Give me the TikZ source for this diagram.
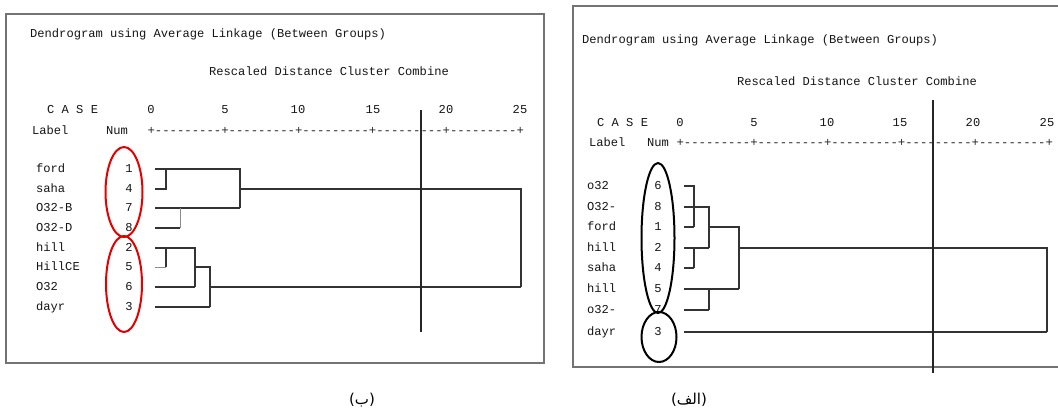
\documentclass[tikz,border=0pt]{standalone}
\usepackage{fontspec}
\setmonofont{Liberation Mono}
\newfontfamily\arabicfont[Script=Arabic]{DejaVu Sans}
\newfontfamily\parenfont{DejaVu Sans}
\TeXXeTstate=1
\tikzset{
  txt/.style={font=\fontsize{12.1}{14}\selectfont\ttfamily, inner sep=0pt, text=black!92, text height=8pt, text depth=2pt},
  lbl/.style={txt, anchor=west},
  num/.style={txt, anchor=center},
  axis/.style={font=\fontsize{12.3}{14}\selectfont\ttfamily, inner sep=0pt, text=black!85, anchor=west, text height=8pt, text depth=2pt},
  dline/.style={draw=black!80, line width=1.2pt},
  lline/.style={draw=black!45, line width=1pt},
  frame/.style={draw=black!55, line width=1.5pt},
  cutline/.style={draw=black!85, line width=1.3pt},
  redring/.style={draw=red!90!black, line width=2pt},
  blackring/.style={draw=black, line width=2pt},
  captext/.style={font=\fontsize{15}{18}\selectfont\parenfont, inner sep=0pt, text=black}
}
\begin{document}
\begin{tikzpicture}[x=1pt,y=-1pt]
\useasboundingbox (0,0) rectangle (1058,413);

% ---------------- left panel (b) ----------------
\draw[frame] (6,14) rectangle (544,363);
\node[lbl] (Ltitle) at (30,34) {Dendrogram using Average Linkage (Between Groups)};
\node[lbl] (Lresc) at (209,72) {Rescaled Distance Cluster Combine};
\node[lbl] (Lcase) at (47,110) {C A S E};
\foreach \v/\x in {0/151,5/225,10/298,15/373,20/446,25/520}
  \node[num] (Ln\v) at (\x,110) {\v};
\node[lbl] (Llabel) at (32,131) {Label};
\node[lbl] (Lnum) at (106,131) {Num};
\node[axis] (Laxis) at (147.3,131) {+---------+---------+---------+---------+---------+};

\foreach \i/\lab/\n/\y in {1/ford/1/169,2/saha/4/189,3/O32-B/7/208,4/O32-D/8/228,5/hill/2/248,6/HillCE/5/267,7/O32/6/287,8/dayr/3/307}{
  \node[lbl] (Lr\i) at (36,\y) {\lab};
  \node[num] (Lk\i) at (129,\y) {\n};
  \coordinate (Ls\i) at (155,\y);
}
% clusters
\draw[dline] (Ls1) -- (240,169) -- (240,208);
\draw[dline] (Ls2) -- (166,189) -- (166,169);
\draw[dline] (240,189) -- (521,189) -- (521,287);
\draw[dline] (Ls3) -- (240,208);
\draw[dline] (Ls4) -- (180,228);
\draw[lline] (180,228) -- (180,208);
\draw[dline] (Ls5) -- (195,248) -- (195,287);
\draw[dline] (166,248) -- (166,267);
\draw[lline] (Ls6) -- (166,267);
\draw[dline] (195,267) -- (210,267) -- (210,307);
\draw[dline] (Ls7) -- (195,287);
\draw[dline] (Ls8) -- (210,307);
\draw[dline] (210,287) -- (521,287);
\draw[cutline] (421,110) -- (421,332);
\draw[redring] (124,192) ellipse [x radius=18.5, y radius=45];
\draw[redring] (124,284) ellipse [x radius=18, y radius=48];

% ---------------- right panel (alef) ----------------
\draw[frame] (1065,6) -- (573,6) -- (573,367) -- (1065,367);
\node[lbl] (Rtitle) at (582,40) {Dendrogram using Average Linkage (Between Groups)};
\node[lbl] (Rresc) at (737,82) {Rescaled Distance Cluster Combine};
\node[lbl] (Rcase) at (597,123) {C A S E};
\foreach \v/\x in {0/680,5/754,10/827,15/900,20/973,25/1047}
  \node[num] (Rn\v) at (\x,123) {\v};
\node[lbl] (Rlabel) at (589,143) {Label};
\node[lbl] (Rnum) at (647,143) {Num};
\node[axis] (Raxis) at (676.3,143) {+---------+---------+---------+---------+---------+};

\foreach \i/\lab/\n/\y in {1/o32/6/186,2/O32-/8/207,3/ford/1/227,4/hill/2/248,5/saha/4/268,6/hill/5/289,7/o32-/7/310,8/dayr/3/332}{
  \node[lbl] (Rr\i) at (587,\y) {\lab};
  \node[num] (Rk\i) at (658,\y) {\n};
  \coordinate (Rs\i) at (684,\y);
}
\draw[dline] (Rs1) -- (694,186) -- (694,227);
\draw[dline] (Rs2) -- (709,207) -- (709,248);
\draw[dline] (Rs3) -- (694,227);
\draw[dline] (709,227) -- (739,227) -- (739,289);
\draw[dline] (Rs4) -- (709,248);
\draw[dline] (694,248) -- (694,268);
\draw[dline] (Rs5) -- (694,268);
\draw[dline] (Rs6) -- (739,289);
\draw[dline] (709,289) -- (709,310);
\draw[dline] (Rs7) -- (709,310);
\draw[dline] (739,248) -- (1047,248) -- (1047,332);
\draw[dline] (Rs8) -- (1047,332);
\draw[cutline] (933,100) -- (933,373);
\draw[blackring] (658,238) ellipse [x radius=16.5, y radius=75];
\draw[blackring] (659,337) ellipse [x radius=17.5, y radius=25];

% ---------------- captions ----------------
\node[captext] (capB) at (362,400) {({\arabicfont\beginR ب\endR})};
\node[captext] (capA) at (689,400) {({\arabicfont\beginR الف\endR})};
\end{tikzpicture}
\end{document}
